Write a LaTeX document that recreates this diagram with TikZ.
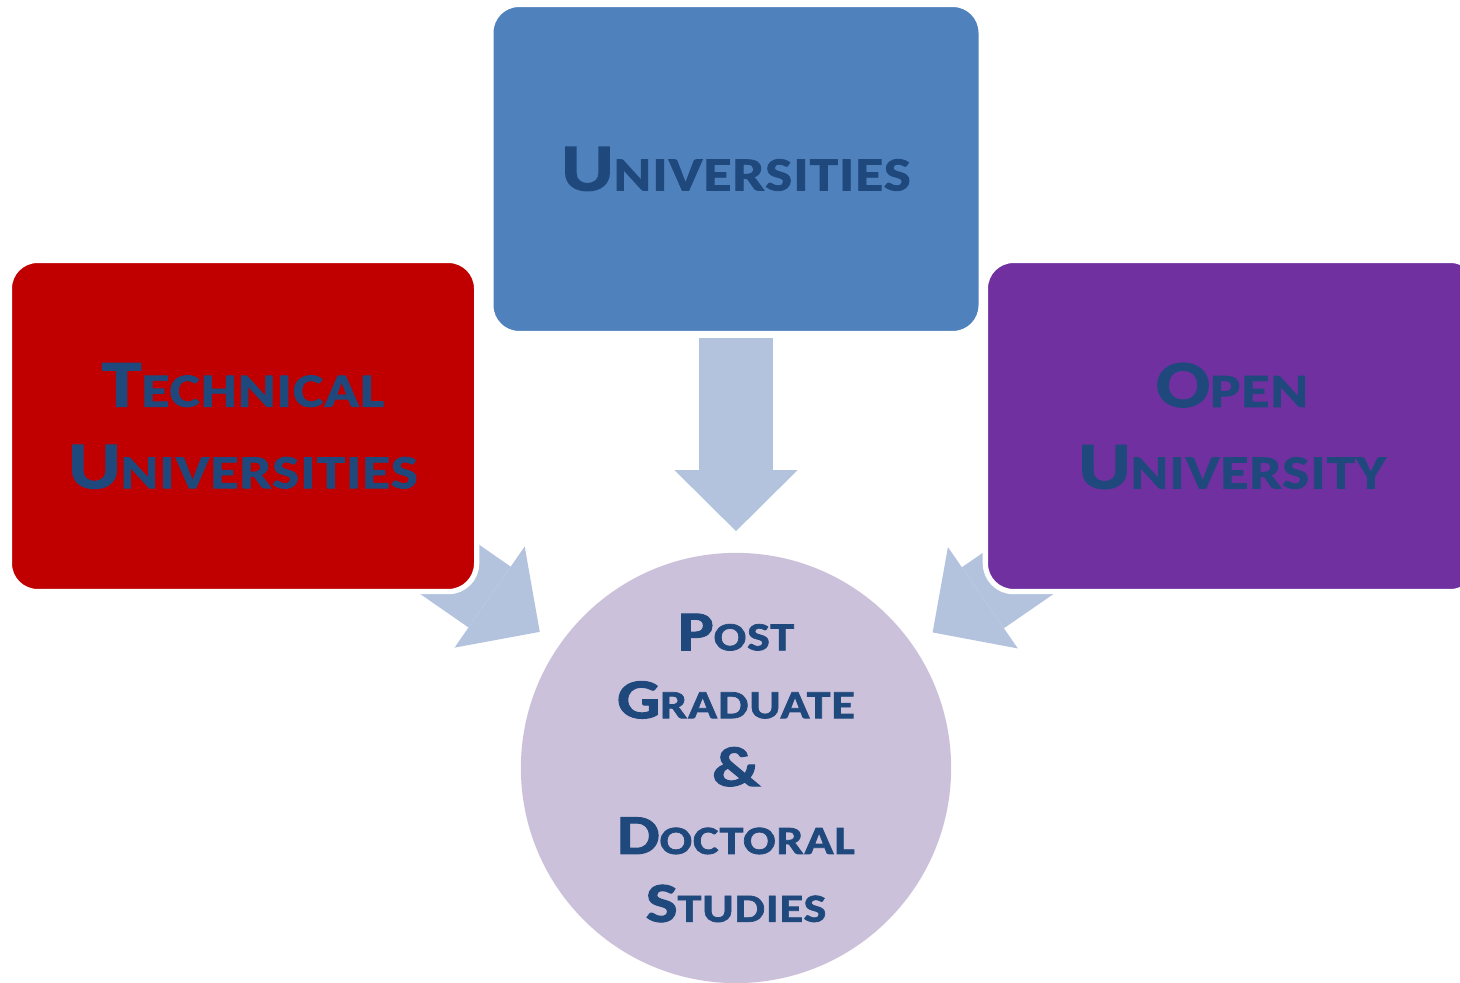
\documentclass[tikz,border=0pt]{standalone}
\usepackage{fontspec}
\setmainfont{Carlito}[FakeStretch=1.2, LetterSpace=2.5, FakeBold=1.8]
\usetikzlibrary{positioning,arrows.meta,backgrounds}

\definecolor{uniblue}{HTML}{4F81BD}
\definecolor{techred}{HTML}{C00000}
\definecolor{openpurple}{HTML}{7030A0}
\definecolor{postlilac}{HTML}{CCC1DA}
\definecolor{feedblue}{HTML}{B3C3DD}
\definecolor{labelblue}{HTML}{1F497D}

% first letter full size, the rest as small capitals
\makeatletter
\newcommand{\capsc}[2]{#1{\fontsize{\strip@pt\dimexpr0.71\dimexpr\f@size pt\relax\relax}{\f@baselineskip}\selectfont #2}}
\makeatother

\begin{document}
\begin{tikzpicture}[x=0.01cm, y=-0.01cm,
  box/.style={rectangle, rounded corners=8pt, draw=white, line width=1.5pt,
    inner sep=0pt, align=center, text=labelblue,
    font=\fontsize{19}{23.2}\selectfont\bfseries},
  hub/.style={circle, fill=postlilac, inner sep=0pt, minimum size=4.3cm,
    align=center, text=labelblue, font=\fontsize{16}{19.3}\selectfont\bfseries},
  feed/.style={draw=feedblue, line width=0.74cm,
    -{Triangle[length=0.61cm, width=1.23cm, line width=0pt, fill=feedblue]}}]
  \useasboundingbox (0,0) rectangle (1460,983);
  % Boxes
  \node[box, fill=uniblue, minimum width=4.90cm, minimum height=3.29cm] (uni) at (736,169) {\capsc{U}{NIVERSITIES}};
  \node[box, fill=techred, minimum width=4.67cm, minimum height=3.31cm] (tech) at (243,426) {\capsc{T}{ECHNICAL}\\\capsc{U}{NIVERSITIES}};
  \node[box, fill=openpurple, minimum width=4.93cm, minimum height=3.31cm] (open) at (1232,426) {\capsc{O}{PEN}\\\capsc{U}{NIVERSITY}};
  % Circle
  \node[hub] (post) at (736,768) {\capsc{P}{OST}\\\capsc{G}{RADUATE}\\\&\\\capsc{D}{OCTORAL}\\\capsc{S}{TUDIES}};
  % Arrows
  \begin{scope}[on background layer]
    \fill[white] (0,0) rectangle (1460,983);
    \draw[feed, shorten <=1.69cm, shorten >=0.21cm] (uni.center) -- (post);
    \draw[feed, shorten <=1.68cm, shorten >=0.23cm] (tech.center) -- (post);
    \draw[feed, shorten <=1.70cm, shorten >=0.23cm] (open.center) -- (post);
  \end{scope}
\end{tikzpicture}
\end{document}
